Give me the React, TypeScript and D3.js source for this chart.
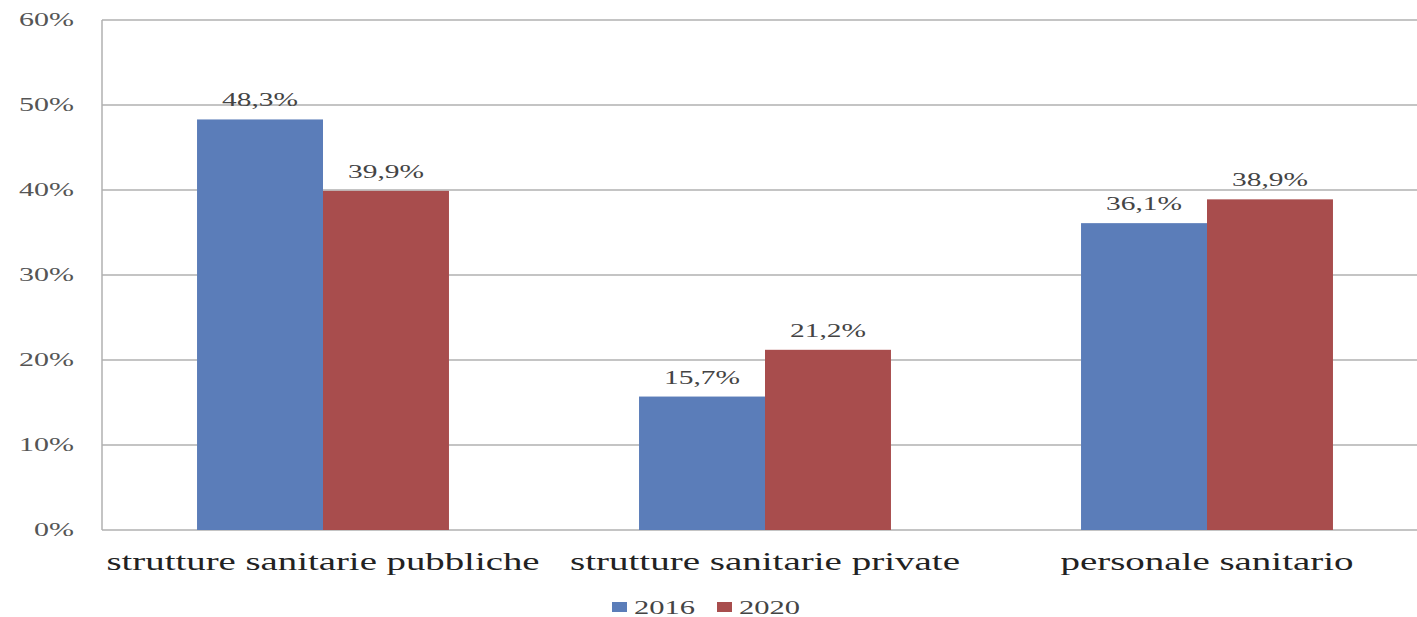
import React from "react";
import * as d3 from "d3";

const categories = ["strutture sanitarie pubbliche", "strutture sanitarie private", "personale sanitario"];
const seriesNames = ["2016", "2020"];
const values2016 = [48.3, 15.7, 36.1];
const values2020 = [39.9, 21.2, 38.9];
const yTicks = [0, 10, 20, 30, 40, 50, 60];
const colors = ["#5B7DB9", "#A84D4D"];

const W = 1417;
const H = 617;
const left = 102;
const right = 1428;
const top = 20;
const bottom = 530;
const font = "'Liberation Serif', 'DejaVu Serif', serif";

export default function App() {
  const x = d3.scaleBand<string>().domain(categories).range([left, right]).padding(0);
  const y = d3.scaleLinear().domain([0, 60]).range([bottom, top]);
  const groupFrac = 0.57;
  const inner = d3.scaleBand<string>().domain(seriesNames).range([0, x.bandwidth() * groupFrac]).padding(0);
  const series = [values2016, values2020];
  const fmt = (v: number) => v.toFixed(1).replace(".", ",") + "%";

  return (
    <svg width={W} height={H} style={{ position: "absolute", left: 0, top: 0, background: "#fff" }}>
      <rect x={0} y={0} width={W} height={H} fill="#fff" />
      {yTicks.map((t) => (
        <g key={t}>
          <line x1={left} x2={right} y1={y(t)} y2={y(t)} stroke="#B0B0B0" strokeWidth={1.5} />
          <text x={74} y={y(t) + 6} textAnchor="end" fontFamily={font} fontSize={19} fill="#555" textLength={t === 0 ? 40 : 55} lengthAdjust="spacingAndGlyphs">
            {t}%
          </text>
        </g>
      ))}
      <line x1={left} x2={left} y1={top} y2={bottom} stroke="#B0B0B0" strokeWidth={1.5} />
      {categories.map((c, i) => {
        const gx = (x(c) as number) + (x.bandwidth() * (1 - groupFrac)) / 2;
        return (
          <g key={c}>
            {seriesNames.map((s, j) => {
              const v = series[j][i];
              const bx = gx + (inner(s) as number);
              return (
                <g key={s}>
                  <rect x={bx} y={y(v)} width={inner.bandwidth()} height={bottom - y(v)} fill={colors[j]} />
                  <text x={bx + inner.bandwidth() / 2} y={y(v) - 13} textAnchor="middle" fontFamily={font} fontSize={19} fill="#444" textLength={76} lengthAdjust="spacingAndGlyphs">
                    {fmt(v)}
                  </text>
                </g>
              );
            })}
            <text x={(x(c) as number) + x.bandwidth() / 2} y={570} textAnchor="middle" fontFamily={font} fontSize={25} fill="#222" textLength={i === 0 ? 433 : i === 1 ? 390 : 293} lengthAdjust="spacingAndGlyphs">
              {c}
            </text>
          </g>
        );
      })}
      {seriesNames.map((s, j) => {
        const lx = 612 + j * 105;
        return (
          <g key={s}>
            <rect x={lx} y={602} width={15} height={10} fill={colors[j]} />
            <text x={lx + 22} y={614} fontFamily={font} fontSize={19} fill="#444" textLength={61} lengthAdjust="spacingAndGlyphs">
              {s}
            </text>
          </g>
        );
      })}
    </svg>
  );
}
